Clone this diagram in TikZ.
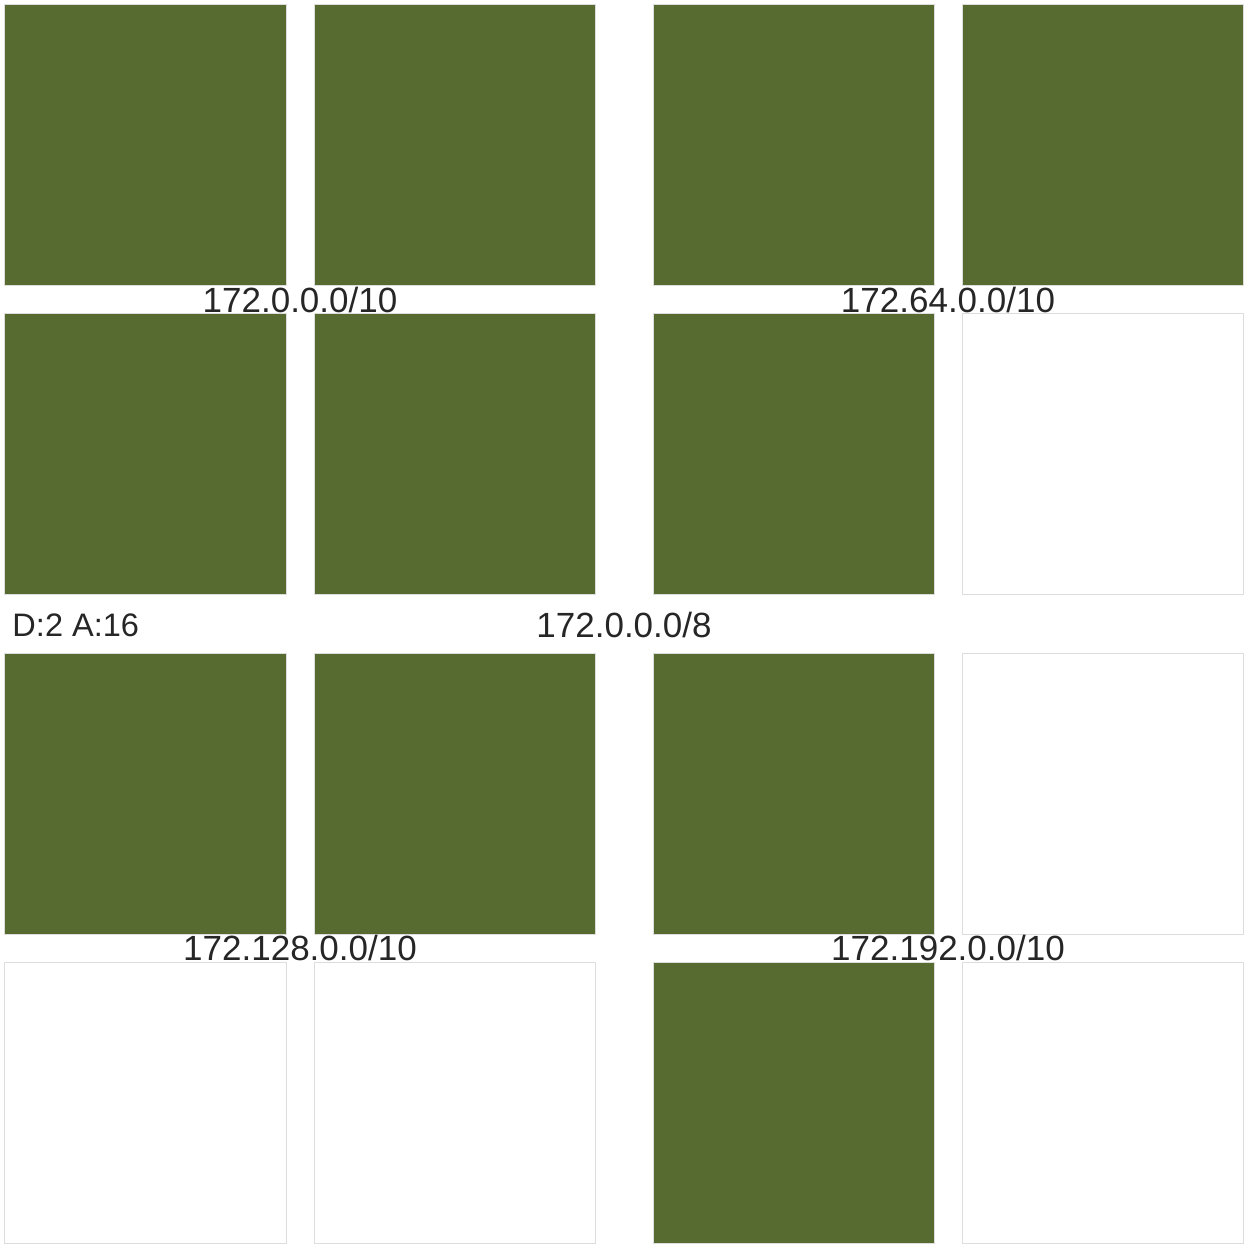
\documentclass[tikz,border=0pt]{standalone}
\usepackage{fontspec}
\setmainfont{Liberation Sans}
\usetikzlibrary{positioning}

\definecolor{used}{RGB}{87,107,48}
\definecolor{edge}{RGB}{221,221,221}

\begin{document}
\begin{tikzpicture}[
  x=0.4pt, y=-0.4pt,
  block/.style={draw=edge, line width=0.4pt, minimum size=112.4pt, inner sep=0pt},
  full/.style={block, fill=used},
  free/.style={block, fill=white},
  net/.style={font=\fontsize{14}{16}\selectfont, inner sep=0pt, text=black!85},
]
  \useasboundingbox (0,0) rectangle (1250,1250);

  % 172.0.0.0/10
  \node[full] (b11) at (145.5,145.5) {};
  \node[full] (b12) at (454.5,145.5) {};
  \node[full] (b21) at (145.5,454) {};
  \node[full] (b22) at (454.5,454) {};
  % 172.64.0.0/10
  \node[full] (b13) at (794,145.5) {};
  \node[full] (b14) at (1102.5,145.5) {};
  \node[full] (b23) at (794,454) {};
  \node[free] (b24) at (1102.5,454) {};
  % 172.128.0.0/10
  \node[full] (b31) at (145.5,794) {};
  \node[full] (b32) at (454.5,794) {};
  \node[free] (b41) at (145.5,1102.5) {};
  \node[free] (b42) at (454.5,1102.5) {};
  % 172.192.0.0/10
  \node[full] (b33) at (794,794) {};
  \node[free] (b34) at (1102.5,794) {};
  \node[full] (b43) at (794,1102.5) {};
  \node[free] (b44) at (1102.5,1102.5) {};

  \node[net] (n0)   at (300,300) {172.0.0.0/10};
  \node[net] (n64)  at (948,300) {172.64.0.0/10};
  \node[net] (n128) at (300,948) {172.128.0.0/10};
  \node[net] (n192) at (948,948) {172.192.0.0/10};
  \node[net] (top)  at (624,625) {172.0.0.0/8};
  \node[net, font=\fontsize{13}{15}\selectfont, anchor=west] (info) at (12,625) {D:2 A:16};
\end{tikzpicture}
\end{document}
